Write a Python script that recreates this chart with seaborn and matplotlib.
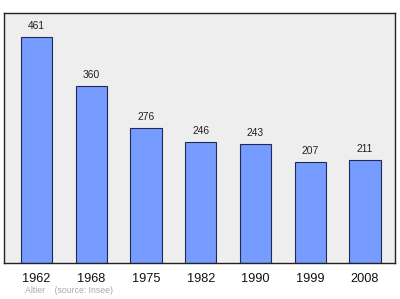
import matplotlib
matplotlib.use("Agg")
import matplotlib.pyplot as plt
import seaborn as sns
import pandas as pd

years = ["1962", "1968", "1975", "1982", "1990", "1999", "2008"]
population = [461, 360, 276, 246, 243, 207, 211]

df = pd.DataFrame({"year": years, "pop": population})

sns.set_style("white")
plt.rcParams['font.family'] = ['Liberation Sans', 'DejaVu Sans']

fig = plt.figure(figsize=(4.0, 2.99), dpi=100)
ax = fig.add_axes([0.01, 0.119, 0.9775, 0.8375])
ax.set_facecolor("#eeeeee")

sns.barplot(data=df, x="year", y="pop", color="#779cff", width=0.575,
            edgecolor="#1f2a55", linewidth=0.8, saturation=1, ax=ax)

for i, v in enumerate(population):
    ax.text(i, v + 12, str(v), ha="center", va="bottom", fontsize=7.4, color="#222222")

ax.set_ylim(0, 509)
ax.set_xlim(-0.594, len(years) - 1 + 0.548)
ax.set_xlabel("")
ax.set_ylabel("")
ax.set_yticks([])
ax.tick_params(axis="x", length=0, labelsize=9.2, pad=7, colors="#111111")
for s in ax.spines.values():
    s.set_color("#222222")
    s.set_linewidth(1.0)

fig.text(0.062, 0.02, "Altier    (source: Insee)", fontsize=6.3, color="#aaaaaa")

fig.savefig("out.png", dpi=100)
